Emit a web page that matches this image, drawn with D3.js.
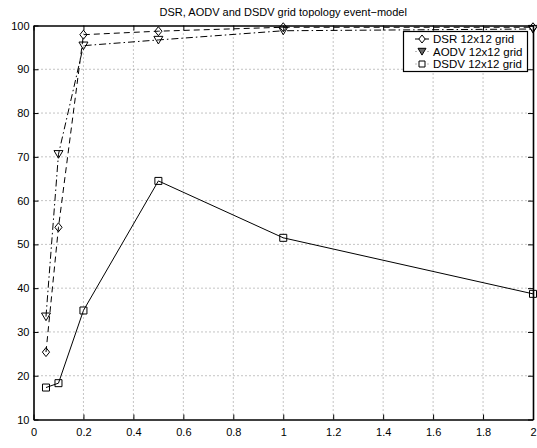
<!DOCTYPE html>
<html><head><meta charset="utf-8">
<script src="https://cdn.jsdelivr.net/npm/d3@7"></script>
<style>body{margin:0;background:#fff}svg{display:block}text{font-family:"Liberation Sans",Arial,Helvetica,sans-serif}</style>
</head><body><svg id="c" width="537" height="448"></svg>
<script>
const xValues = [0.05, 0.1, 0.2, 0.5, 1, 2];
const dsr  = [25.4, 53.9, 97.9, 98.7, 99.6, 99.6];
const aodv = [33.5, 70.6, 95.4, 96.7, 98.8, 99.2];
const dsdv = [17.3, 18.3, 34.9, 64.5, 51.5, 38.7];
const seriesNames = ["DSR 12x12 grid", "AODV 12x12 grid", "DSDV 12x12 grid"];
const xTicks = [0,0.2,0.4,0.6,0.8,1,1.2,1.4,1.6,1.8,2];
const yTicks = [10,20,30,40,50,60,70,80,90,100];
const title = "DSR, AODV and DSDV grid topology event\u2212model";

const svg = d3.select("#c");
const L=33.5, R=533, T=25.5, B=419.5;
const x = d3.scaleLinear().domain([0,2]).range([L,R]);
const y = d3.scaleLinear().domain([10,100]).range([B,T]);

// grid
const g = svg.append("g");
g.selectAll(".gx").data(xTicks.slice(1,-1)).join("line")
 .attr("x1",d=>x(d)).attr("x2",d=>x(d)).attr("y1",T).attr("y2",B)
 .attr("stroke","#888").attr("stroke-width",1).attr("stroke-dasharray","1,3");
g.selectAll(".gy").data(yTicks.slice(1,-1)).join("line")
 .attr("y1",d=>y(d)).attr("y2",d=>y(d)).attr("x1",L).attr("x2",R)
 .attr("stroke","#888").attr("stroke-width",1).attr("stroke-dasharray","1,3");

// axes
const fmt = d=>String(+d.toFixed(1));
const axB = svg.append("g").attr("transform",`translate(0,${B})`)
  .call(d3.axisBottom(x).tickValues(xTicks).tickFormat(fmt).tickSizeInner(-5).tickSizeOuter(0).tickPadding(9));
const axT = svg.append("g").attr("transform",`translate(0,${T})`)
  .call(d3.axisTop(x).tickValues(xTicks).tickFormat("").tickSizeInner(-5).tickSizeOuter(0));
const axL = svg.append("g").attr("transform",`translate(${L},0)`)
  .call(d3.axisLeft(y).tickValues(yTicks).tickFormat(d3.format("d")).tickSizeInner(-5).tickSizeOuter(0).tickPadding(4));
const axR = svg.append("g").attr("transform",`translate(${R},0)`)
  .call(d3.axisRight(y).tickValues(yTicks).tickFormat("").tickSizeInner(-5).tickSizeOuter(0));
[axB,axT,axL,axR].forEach(a=>{
  a.select(".domain").attr("stroke","#000").attr("stroke-width",1.6);
  a.selectAll(".tick line").attr("stroke","#000");
  a.selectAll("text").attr("font-size",11).attr("fill","#000").style("font-family",'"Liberation Sans",Arial,sans-serif');
});

svg.append("text").attr("x",(L+R)/2).attr("y",16).attr("text-anchor","middle")
  .attr("font-size",11).text(title);

const sym = {
  diamond: s=>`M0,${-s}L${s*0.8},0L0,${s}L${-s*0.8},0Z`,
  tri: s=>`M${-s},${-s*0.8}L${s},${-s*0.8}L0,${s*0.9}Z`,
  square: s=>`M${-s},${-s}H${s}V${s}H${-s}Z`
};
const series = [
  {vals:dsr, dash:"6,4", m:"diamond", ms:4.5},
  {vals:aodv, dash:"7,3,1.5,3", m:"tri", ms:4.5},
  {vals:dsdv, dash:null, m:"square", ms:3.5}
];
const line = d3.line().x((d,i)=>x(xValues[i])).y(d=>y(d));
series.forEach(s=>{
  svg.append("path").attr("d",line(s.vals)).attr("fill","none").attr("stroke","#000")
    .attr("stroke-width",1).attr("stroke-dasharray",s.dash);
  svg.selectAll(null).data(s.vals).join("path")
    .attr("transform",(d,i)=>`translate(${x(xValues[i])},${y(d)})`)
    .attr("d",sym[s.m](s.ms)).attr("fill","none").attr("stroke","#000").attr("stroke-width",1);
});

// legend
const lg = svg.append("g");
lg.append("rect").attr("x",403.5).attr("y",31.5).attr("width",124).attr("height",40)
  .attr("fill","#fff").attr("stroke","#000").attr("stroke-width",1.2);
const ly = [39, 51.5, 64];
const lx = 422;
series.forEach((s,i)=>{
  if(i===0){
    lg.append("line").attr("x1",lx-7).attr("x2",lx+7).attr("y1",ly[i]).attr("y2",ly[i]).attr("stroke","#000");
  } else {
    [lx-6,lx+6].forEach(px=>lg.append("rect").attr("x",px-0.5).attr("y",ly[i]-0.5).attr("width",1).attr("height",1).attr("fill","#777"));
  }
  lg.append("path").attr("transform",`translate(${lx},${ly[i]})`).attr("d",sym[s.m](i===2?3:4))
    .attr("fill",i===1?"#666":"#fff").attr("stroke","#000");
  lg.append("text").attr("x",433).attr("y",ly[i]+4).attr("font-size",11.5).text(seriesNames[i]);
});
</script></body></html>
